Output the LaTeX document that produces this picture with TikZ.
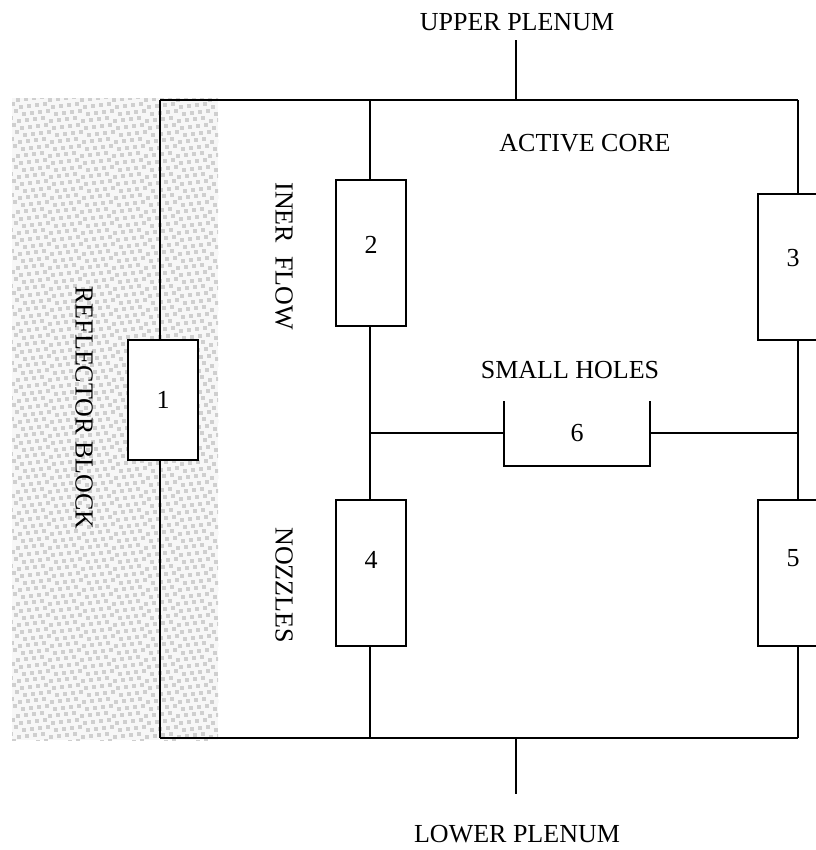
\documentclass[tikz,border=0pt]{standalone}
\usepackage{fontspec}
\setmainfont{Liberation Serif}
\begin{document}
\begin{tikzpicture}[x=0.75pt,y=-0.75pt,
  wire/.style={line width=1.3pt,black},
  elem/.style={draw,line width=1.3pt,fill=white,minimum width=52.5pt,inner sep=0pt,font=\fontsize{19.5}{22}\selectfont},
  lbl/.style={font=\fontsize{19.5}{22}\selectfont,inner sep=0pt},
  sq/.style={fill=gray!38}]
\useasboundingbox (0,0) rectangle (816,850);
\clip (0,0) rectangle (816,850);
% reflector block shading
\fill[gray!6] (12,98) rectangle (218,740);
\begin{scope}
\clip (12,98) rectangle (218,740);
\foreach \j in {0,...,92}{
  \foreach \i in {0,...,27}{
    \pgfmathsetmacro{\xx}{8+8*\i+mod(3*\j,8)}
    \pgfmathsetmacro{\yy}{95+7*\j+mod(3*\i,4)}
    \fill[sq] (\xx,\yy) rectangle ++(4,4);
  }
}
\end{scope}
% junction coordinates
\coordinate (tl) at (160,100);
\coordinate (tr) at (798,100);
\coordinate (bl) at (160,738);
\coordinate (br) at (798,738);
\coordinate (tm) at (370,100);
\coordinate (bm) at (370,738);
\coordinate (up) at (516,100);
\coordinate (upend) at (516,40);
\coordinate (lo) at (516,738);
\coordinate (loend) at (516,794);
\coordinate (jl) at (370,433);
\coordinate (jr) at (798,433);
% elements
\node[elem,minimum height=90pt] (b1) at (163,400) {1};
\node[elem,minimum height=109.5pt] (b2) at (371,253) {};
\node[lbl] (n2) at (371,245) {2};
\node[elem,minimum height=109.5pt] (b3) at (793,267) {};
\node[lbl] (n3) at (793,258) {3};
\node[elem,minimum height=109.5pt] (b4) at (371,573) {};
\node[lbl] (n4) at (371,560) {4};
\node[elem,minimum height=109.5pt] (b5) at (793,573) {};
\node[lbl] (n5) at (793,558) {5};
\node[lbl] (six) at (577,433) {6};
\coordinate (s6l) at (504,433);
\coordinate (s6r) at (650,433);
\draw[wire] (504,401) -- (504,466) -- (650,466) -- (650,401);
% wiring
\draw[wire] (tl) -- (tr);
\draw[wire] (bl) -- (br);
\draw[wire] (tl) -- (tl |- b1.north);
\draw[wire] (bl) -- (bl |- b1.south);
\draw[wire] (tm) -- (tm |- b2.north);
\draw[wire] (tm |- b2.south) -- (tm |- b4.north);
\draw[wire] (bm) -- (bm |- b4.south);
\draw[wire] (tr) -- (tr |- b3.north);
\draw[wire] (tr |- b3.south) -- (tr |- b5.north);
\draw[wire] (br) -- (br |- b5.south);
\draw[wire] (jl) -- (s6l);
\draw[wire] (s6r) -- (jr);
\draw[wire] (up) -- (upend);
\draw[wire] (lo) -- (loend);
% labels
\node[lbl] (upl) at (517,22) {UPPER PLENUM};
\node[lbl] (lol) at (517,834) {LOWER PLENUM};
\node[lbl] (ac) at (585,143) {ACTIVE CORE};
\node[lbl] (sh) at (570,370) {SMALL HOLES};
\node[lbl,rotate=-90] (inf) at (284,256) {INER\enspace FLOW};
\node[lbl,rotate=-90] (noz) at (284,585) {NOZZLES};
\node[lbl,rotate=-90] (rb) at (84,408) {REFLECTOR BLOCK};
\end{tikzpicture}
\end{document}
